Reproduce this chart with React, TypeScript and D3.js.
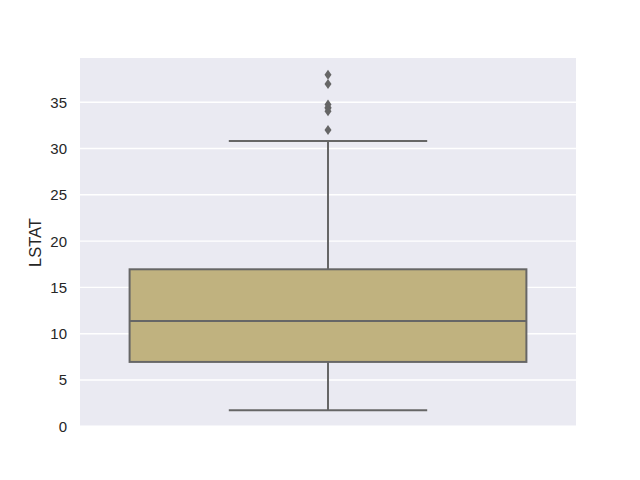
import React from 'react'
import * as d3 from 'd3'

// LSTAT summary stats (boxplot)
const q1 = 6.95
const median = 11.36
const q3 = 16.955
const whiskerLow = 1.73
const whiskerHigh = 30.81
const outliers = [31.99, 34.02, 34.37, 34.41, 34.77, 36.98, 37.97]
const yTicks = [0, 5, 10, 15, 20, 25, 30, 35]
const yLabel = 'LSTAT'

const W = 640
const H = 480
const left = 80
const right = 576
const top = 58
const bottom = 427

const boxFill = '#c0b27f'
const lineCol = '#666666'

function App() {
  const y = d3.scaleLinear().domain([-0.08, 39.78]).range([bottom, top])
  const x = d3.scaleLinear().domain([-0.5, 0.5]).range([left, right])

  const bx0 = x(-0.4)
  const bx1 = x(0.4)
  const cx = x(0)
  const cap0 = x(-0.2)
  const cap1 = x(0.2)

  const diamond = (h: number, w: number) =>
    `M0,${-h / 2}L${w / 2},0L0,${h / 2}L${-w / 2},0Z`

  return (
    <svg width={W} height={H} style={{ position: 'absolute', left: 0, top: 0, background: '#fff' }}
      fontFamily="Liberation Sans, Arial, sans-serif">
      <rect x={left} y={top} width={right - left} height={bottom - top} fill="#eaeaf2" />
      {yTicks.map(t => (
        <g key={t}>
          <line x1={left} x2={right} y1={y(t)} y2={y(t)} stroke="#fff" strokeWidth={1.4} />
          <text x={67} y={y(t)} dy="0.36em" textAnchor="end" fontSize={15} fill="#262626">{t}</text>
        </g>
      ))}
      <text transform={`translate(41,${(top + bottom) / 2}) rotate(-90)`} textAnchor="middle"
        fontSize={16.5} fill="#262626">{yLabel}</text>

      {/* whiskers */}
      <line x1={cx} x2={cx} y1={y(q3)} y2={y(whiskerHigh)} stroke={lineCol} strokeWidth={2} />
      <line x1={cx} x2={cx} y1={y(q1)} y2={y(whiskerLow)} stroke={lineCol} strokeWidth={2} />
      <line x1={cap0} x2={cap1} y1={y(whiskerHigh)} y2={y(whiskerHigh)} stroke={lineCol} strokeWidth={2} />
      <line x1={cap0} x2={cap1} y1={y(whiskerLow)} y2={y(whiskerLow)} stroke={lineCol} strokeWidth={2} />

      {/* box */}
      <rect x={bx0} y={y(q3)} width={bx1 - bx0} height={y(q1) - y(q3)} fill={boxFill}
        stroke={lineCol} strokeWidth={2} />
      <line x1={bx0} x2={bx1} y1={y(median)} y2={y(median)} stroke={lineCol} strokeWidth={2} />

      {/* outliers */}
      {outliers.map((v, i) => (
        <path key={i} d={diamond(10, 7)} transform={`translate(${cx},${y(v)})`} fill={lineCol} />
      ))}
    </svg>
  )
}

export default App
